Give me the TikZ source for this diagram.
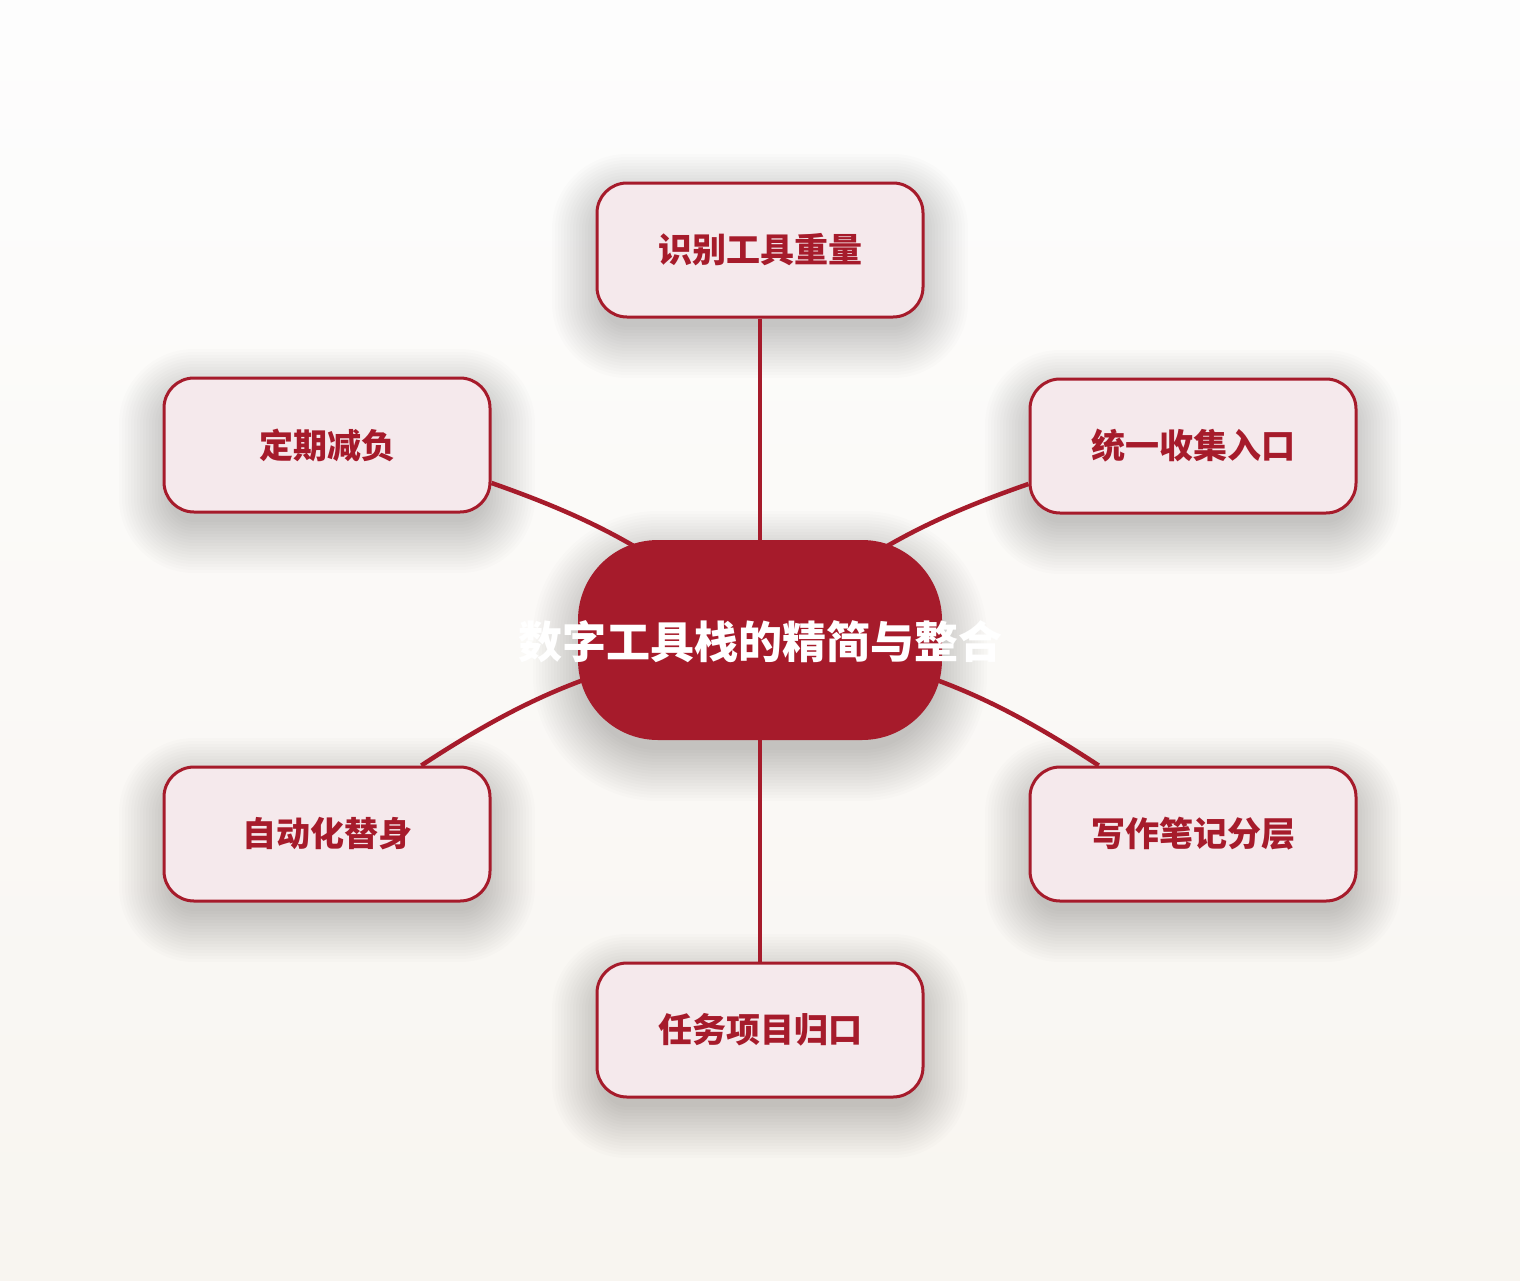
\documentclass[tikz,border=0pt]{standalone}
\usepackage{fontspec}
\setmainfont{Noto Sans CJK SC}[BoldFont={Noto Sans CJK SC Black}]
\definecolor{dred}{RGB}{166,27,43}
\definecolor{pinkfill}{RGB}{245,233,236}
\definecolor{bgtop}{RGB}{253,253,253}
\definecolor{bgbot}{RGB}{248,245,240}
\pgfdeclarelayer{bg}
\pgfdeclarelayer{edges}
\pgfsetlayers{bg,edges,main}
\newcommand{\softshadow}[5]{%
  \foreach \d in {-6,-3,...,45}{%
    \pgfmathsetmacro{\rr}{max(#5+\d,4)}%
    \fill[black,opacity=0.010,rounded corners=\rr pt]
      ({#1-#3/2-\d},{#2-#4/2-\d+16}) rectangle ({#1+#3/2+\d},{#2+#4/2+\d+16});
  }}
\tikzset{
  box/.style={draw=dred,line width=3pt,fill=pinkfill,rounded corners=30pt,
    minimum width=326pt,minimum height=134pt,inner sep=0pt,text=dred,
    font=\fontsize{34}{40}\selectfont\bfseries},
  centre/.style={fill=dred,draw=none,rounded corners=80pt,
    minimum width=364pt,minimum height=200pt,inner sep=0pt},
  centretext/.style={text=white,inner sep=0pt,font=\fontsize{44}{52}\selectfont\bfseries},
  edge/.style={draw=dred,line width=4.5pt}
}
\begin{document}
\begin{tikzpicture}[x=1pt,y=-1pt]
\begin{pgfonlayer}{bg}
  \shade[top color=bgtop,bottom color=bgbot] (0,0) rectangle (1520,1280);
  \softshadow{760}{250}{326}{134}{30}
  \softshadow{327}{445}{326}{134}{30}
  \softshadow{1193}{446}{326}{134}{30}
  \softshadow{327}{834}{326}{134}{30}
  \softshadow{1193}{834}{326}{134}{30}
  \softshadow{760}{1030}{326}{134}{30}
  \softshadow{760}{640}{364}{200}{80}
\end{pgfonlayer}
\useasboundingbox (0,0) rectangle (1520,1280);
\node[centre] (c) at (760,640) {};
\node[centretext] (ctext) at (760,642) {数字工具栈的精简与整合};
\node[box] (t) at (760,250) {识别工具重量};
\node[box] (ul) at (327,445) {定期减负};
\node[box] (ur) at (1193,446) {统一收集入口};
\node[box] (ll) at (327,834) {自动化替身};
\node[box] (lr) at (1193,834) {写作笔记分层};
\node[box] (b) at (760,1030) {任务项目归口};
\begin{pgfonlayer}{edges}
  \draw[edge] (t.south) -- (c.center);
  \draw[edge] (b.north) -- (c.center);
  \draw[edge] (ul.-13) to[bend left=11] (c.center);
  \draw[edge] (ur.193) to[bend right=11] (c.center);
  \draw[edge] (ll.36) to[bend left=13] (c.center);
  \draw[edge] (lr.144) to[bend right=13] (c.center);
\end{pgfonlayer}
\end{tikzpicture}
\end{document}
